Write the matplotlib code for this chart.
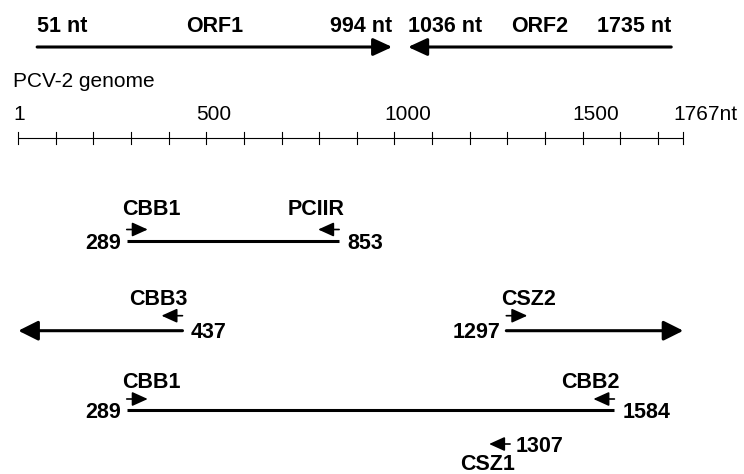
import matplotlib
matplotlib.use("Agg")
import matplotlib.pyplot as plt
from matplotlib.patches import FancyArrowPatch

# ---------------- data ----------------
genome_length = 1767
genome_title = "PCV-2 genome"
orf_names = ["ORF1", "ORF2"]
orf_starts = [51, 1735]      # arrow tail (nt)
orf_ends = [994, 1036]       # arrow tip (nt)
ruler_labels = [1, 500, 1000, 1500, 1767]
tick_step = 100

frag_starts = [289, 1297, 289]   # 2nd fragment wraps round the origin
frag_ends = [853, 437, 1584]

primer_names = ["CBB1", "PCIIR", "CBB3", "CSZ2", "CBB1", "CBB2", "CSZ1"]
primer_pos = [289, 853, 437, 1297, 289, 1584, 1307]
primer_dir = [1, -1, -1, 1, 1, -1, -1]
primer_row = [0, 0, 1, 1, 2, 2, 3]

# ---------------- layout ----------------
W, H = 744, 474
fig = plt.figure(figsize=(W / 100, H / 100), dpi=100)
ax = fig.add_axes([0, 0, 1, 1])
x0_px = 18.3
ppn = (683.3 - 18.3) / (genome_length - 1)   # pixels per nt
ax.set_xlim(1 - x0_px / ppn, 1 + (W - x0_px) / ppn)
ax.set_ylim(H, 0)
ax.axis("off")

BOLD = dict(family=["Liberation Sans", "DejaVu Sans"], weight="bold", size=15.5)
REG = dict(family=["Liberation Sans", "DejaVu Sans"], size=15)


def px2nt(px):
    return 1 + (px - x0_px) / ppn


def arrow(x_tail, x_tip, y, lw, hl, hw):
    p = FancyArrowPatch((x_tail, y), (x_tip, y),
                        arrowstyle=f"-|>,head_length={hl},head_width={hw}",
                        mutation_scale=1, lw=lw, color="black",
                        shrinkA=0, shrinkB=0)
    ax.add_patch(p)


def label(x, y, s, ha, dx=0, style=BOLD, va="baseline"):
    ax.annotate(s, (x, y), xytext=(dx, 0), textcoords="offset pixels",
                ha=ha, va=va, color="black", **style)


# ORF arrows
orf_y, orf_base = 47, 32
for name, s, e in zip(orf_names, orf_starts, orf_ends):
    arrow(s, e, orf_y, 2.2, 11.5, 5.3)
    lo, hi = min(s, e), max(s, e)
    label(lo, orf_base, f"{lo} nt", "left")
    label(hi, orf_base, f"{hi} nt", "right")
    label((lo + hi) / 2, orf_base, name, "center")

# genome title & ruler
label(px2nt(12.7), 86.7, genome_title, "left", style=REG)
ruler_y = 138.3
ax.plot([1, genome_length], [ruler_y, ruler_y], color="black", lw=0.8,
        solid_capstyle="butt")
ticks = [1] + list(range(tick_step, genome_length, tick_step)) + [genome_length]
for t in ticks:
    ax.plot([t, t], [ruler_y - 6.5, ruler_y + 6], color="black", lw=0.8)
for v in ruler_labels:
    txt = f"{v}nt" if v == genome_length else f"{v}"
    label(v, 120, txt, "left", dx=-5 if v == 1 else -10, style=REG)

# fragments
row_line_y = [241, 330.7, 410]
row_primer_y = [229.5, 315.7, 399, 444]
row_label_base = [215, 305, 388.5, 470.5]

for i, (s, e) in enumerate(zip(frag_starts, frag_ends)):
    y = row_line_y[i]
    if s < e:
        ax.plot([s, e], [y, y], color="black", lw=2.2, solid_capstyle="butt")
    else:
        arrow(s, genome_length, y, 2.2, 12, 6)
        arrow(e, 1, y, 2.2, 12, 6)
    label(s, y + 7.5, f"{s}", "right", dx=-6)
    label(e, y + 7.5, f"{e}", "left", dx=8)

# primers
plen = 21 / ppn
for name, pos, d, r in zip(primer_names, primer_pos, primer_dir, primer_row):
    y = row_primer_y[r]
    arrow(pos, pos + d * plen, y, 1.2, 9.5, 4.3)
    if d > 0:
        label(pos, row_label_base[r], name, "left", dx=-5)
    else:
        label(pos, row_label_base[r], name, "right", dx=5)
    if r >= len(frag_starts):
        label(pos, y + 7.5, f"{pos}", "left", dx=6)

fig.savefig("out.png", dpi=100, facecolor="white")
